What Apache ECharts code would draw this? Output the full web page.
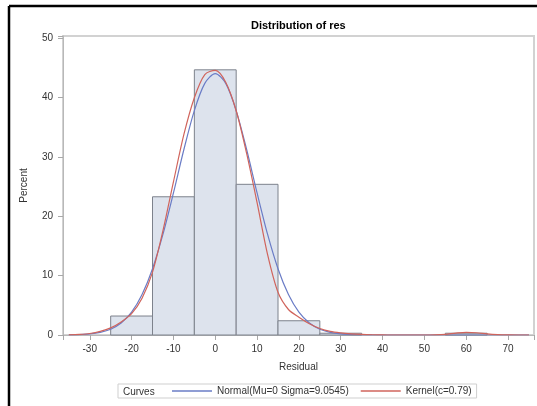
<!DOCTYPE html>
<html>
<head>
<meta charset="utf-8">
<script src="https://cdn.jsdelivr.net/npm/echarts@6/dist/echarts.min.js"></script>
<style>html,body{margin:0;padding:0;background:#fff;}#c{width:537px;height:406px;}</style>
</head>
<body>
<div id="c"></div>
<script>
const titleText = 'Distribution of res';
const binMid = [-20, -10, 0, 10, 20, 30, 60];
const binPct = [3.2, 23.3, 44.7, 25.4, 2.4, 0.3, 0.3];
const binWidth = 10;
const curveX = [-35,-32.5,-30,-27.5,-25,-22.5,-20,-17.5,-15,-12.5,-10,-7.5,-5,-2.5,0,2.5,5,7.5,10,12.5,15,17.5,20,22.5,25,27.5,30,32.5,35,37.5,40,42.5,45,47.5,50,52.5,55,57.5,60,62.5,65,67.5,70,72.5,75];
const normalY = [0.03,0.07,0.18,0.44,0.97,2.01,3.84,6.81,11.17,16.99,23.94,31.27,37.83,42.41,44.06,42.41,37.83,31.27,23.94,16.99,11.17,6.81,3.84,2.01,0.97,0.44,0.18,0.07,0.03,0.01,0,0,0,0,0,0,0,0,0,0,0,0,0,0,0];
const kernelY = [0.03,0.1,0.25,0.6,1.2,2.2,3.6,6.2,10.6,17.6,25.8,33.8,40.0,43.9,44.6,42.6,37.8,30.6,22.3,13.6,7.2,4.3,3.0,1.9,1.1,0.6,0.35,0.2,0.1,0.04,0.01,0,0,0,0,0.03,0.12,0.32,0.45,0.38,0.18,0.06,0.01,0,0];
const normalName = 'Normal(Mu=0 Sigma=9.0545)';
const kernelName = 'Kernel(c=0.79)';
const legendTitle = 'Curves';
const xName = 'Residual';
const yName = 'Percent';

const FONT = 'Liberation Sans, Arial, sans-serif';
const chart = echarts.init(document.getElementById('c'), null, {renderer: 'canvas'});
const fmt = v => (Math.abs(v - Math.round(v / 10) * 10) < 1e-6 ? String(Math.round(v)) : '');

chart.setOption({
  backgroundColor: '#ffffff',
  animation: false,
  title: {
    text: titleText, left: 246, top: 15,
    textStyle: {fontFamily: FONT, fontSize: 11, fontWeight: 'bold', color: '#000'}
  },
  grid: {left: 63, right: 2, top: 36, bottom: 71, show: true, borderColor: '#d2d2d2', borderWidth: 2, backgroundColor: '#fff'},
  xAxis: {
    type: 'value', min: -36.4, max: 76.2, splitNumber: 11,
    name: xName, nameLocation: 'middle', nameGap: 27,
    nameTextStyle: {fontFamily: FONT, fontSize: 10, color: '#333'},
    axisLine: {show: true, onZero: false, lineStyle: {color: '#b8b8b8'}},
    axisTick: {show: true, length: 5, lineStyle: {color: '#a8a8a8'}},
    axisLabel: {formatter: fmt, fontFamily: FONT, fontSize: 10, color: '#333', margin: 9},
    splitLine: {show: false}
  },
  yAxis: {
    type: 'value', min: 0, max: 50.4, interval: 10,
    name: yName, nameLocation: 'middle', nameGap: 34, nameRotate: 90,
    nameTextStyle: {fontFamily: FONT, fontSize: 10, color: '#333'},
    axisLine: {show: true, onZero: false, lineStyle: {color: '#b8b8b8'}},
    axisTick: {show: true, length: 5, lineStyle: {color: '#a8a8a8'}},
    axisLabel: {formatter: fmt, fontFamily: FONT, fontSize: 10, color: '#333', margin: 10},
    splitLine: {show: false}
  },
  legend: {
    left: 118, top: 384, orient: 'horizontal',
    padding: [2, 5, 2, 54], itemGap: 12, itemWidth: 40, itemHeight: 1.5,
    borderColor: '#cfcfcf', borderWidth: 1,
    icon: 'rect',
    textStyle: {fontFamily: FONT, fontSize: 10, color: '#333'},
    data: [normalName, kernelName]
  },
  graphic: [
    {type: 'text', left: 123, top: 387, style: {text: legendTitle, font: '10px ' + FONT, fill: '#333'}},
    {type: 'line', shape: {x1: 9, y1: 6, x2: 537, y2: 6}, style: {stroke: '#000', lineWidth: 2.5}},
    {type: 'line', shape: {x1: 9, y1: 6, x2: 9, y2: 406}, style: {stroke: '#000', lineWidth: 2.5}}
  ],
  series: [
    {
      type: 'custom', name: 'hist',
      data: binMid.map((m, i) => [m, binPct[i]]),
      encode: {x: 0, y: 1},
      renderItem: function (params, api) {
        const m = api.value(0), v = api.value(1);
        const p0 = api.coord([m - binWidth / 2, v]);
        const p1 = api.coord([m + binWidth / 2, 0]);
        return {
          type: 'rect',
          shape: {x: p0[0], y: p0[1], width: p1[0] - p0[0], height: p1[1] - p0[1]},
          style: {fill: '#dde3ed', stroke: '#7d828c', lineWidth: 1}
        };
      },
      z: 1
    },
    {
      type: 'line', name: normalName,
      data: curveX.map((x, i) => [x, normalY[i]]),
      smooth: 0.3, showSymbol: false, clip: true,
      lineStyle: {color: '#6a7cc6', width: 1.2}, itemStyle: {color: '#6a7cc6'}, z: 3
    },
    {
      type: 'line', name: kernelName,
      data: curveX.map((x, i) => [x, kernelY[i]]),
      smooth: 0.3, showSymbol: false, clip: true,
      lineStyle: {color: '#d0645c', width: 1.2}, itemStyle: {color: '#d0645c'}, z: 4
    }
  ]
});
</script>
</body>
</html>
